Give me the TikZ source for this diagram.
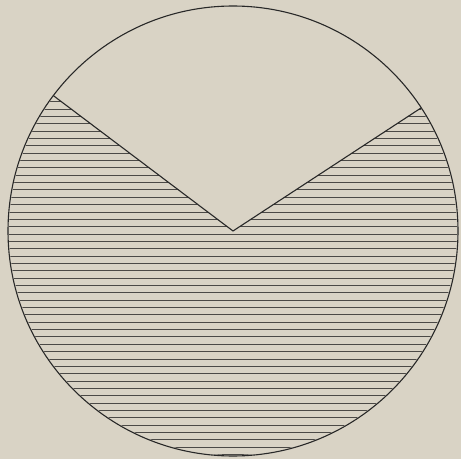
\documentclass[tikz,border=0pt]{standalone}
\definecolor{paper}{RGB}{217,211,197}
\definecolor{ink}{RGB}{40,40,40}
\definecolor{hatch}{RGB}{75,73,70}
\begin{document}
\begin{tikzpicture}[x=1pt,y=1pt,
  outline/.style={draw=ink,line width=1.1pt},
  hatchline/.style={draw=hatch,line width=0.85pt}]
\fill[paper] (0,0) rectangle (461,459);
\useasboundingbox (0,0) rectangle (461,459);
\coordinate (c) at (233,228);
\begin{scope}
  \clip (c) -- ++(143:224) arc[start angle=143, end angle=393.2, radius=224] -- cycle;
  \foreach \k in {0,...,64} {
    \draw[hatchline] (0,{4.5+7.35*\k}) -- (461,{4.5+7.35*\k});
  }
\end{scope}
\draw[outline] (c) circle[radius=225];
\path (c) ++(143:225) coordinate (l) (c) ++(33.2:225) coordinate (r);
\draw[outline,line join=miter] (l) -- (c) -- (r);
\end{tikzpicture}
\end{document}
